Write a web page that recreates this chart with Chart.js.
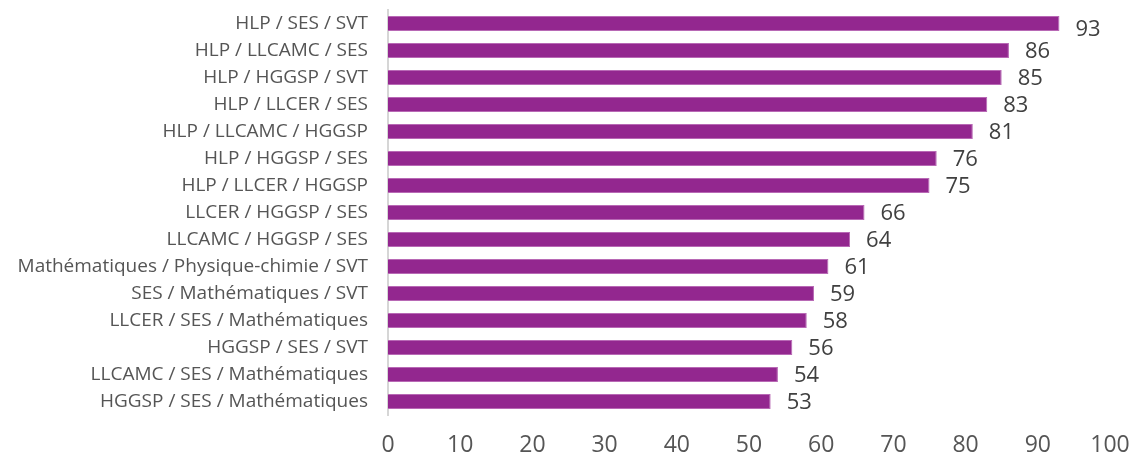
<!DOCTYPE html>
<html>
<head>
<meta charset="utf-8">
<script src="https://cdn.jsdelivr.net/npm/chart.js@4.4.1/dist/chart.umd.min.js"></script>
<style>
  html, body { margin: 0; padding: 0; background: #ffffff; }
  #wrap { width: 1134px; height: 455px; }
</style>
</head>
<body>
<div id="wrap"><canvas id="barChart"></canvas></div>
<script>
'use strict';

// ── DATA ──────────────────────────────────────────────────────
const categories = [
  'HLP / SES / SVT',
  'HLP / LLCAMC / SES',
  'HLP / HGGSP / SVT',
  'HLP / LLCER / SES',
  'HLP / LLCAMC / HGGSP',
  'HLP / HGGSP / SES',
  'HLP / LLCER / HGGSP',
  'LLCER / HGGSP / SES',
  'LLCAMC / HGGSP / SES',
  'Mathématiques / Physique-chimie / SVT',
  'SES / Mathématiques / SVT',
  'LLCER / SES / Mathématiques',
  'HGGSP / SES / SVT',
  'LLCAMC / SES / Mathématiques',
  'HGGSP / SES / Mathématiques',
];
const values = [93, 86, 85, 83, 81, 76, 75, 66, 64, 61, 59, 58, 56, 54, 53];

const xMin  = 0;
const xMax  = 100;
const xStep = 10;

const FONT = "'Open Sans', 'Noto Sans', sans-serif";

// ── VALUE LABELS (end of bar) ─────────────────────────────────
const valueLabels = {
  id: 'valueLabels',
  afterDatasetsDraw(chart) {
    const { ctx } = chart;
    const meta = chart.getDatasetMeta(0);
    ctx.save();
    ctx.font = `22px ${FONT}`;
    ctx.fillStyle = '#404040';
    ctx.textAlign = 'left';
    ctx.textBaseline = 'middle';
    meta.data.forEach((bar, i) => {
      const shift = i === 0 ? 6 : 1.5;
      ctx.fillText(String(values[i]), bar.x + 16, bar.y + shift);
    });
    ctx.restore();
  },
};

// ── CHART ─────────────────────────────────────────────────────
new Chart(document.getElementById('barChart'), {
  type: 'bar',
  data: {
    labels: categories,
    datasets: [{
      data: values,
      backgroundColor: '#93278f',
      borderColor: '#b869b5',
      borderWidth: 1,
      borderSkipped: 'start',
      categoryPercentage: 1,
      barPercentage: 0.55,
    }],
  },
  options: {
    indexAxis: 'y',
    responsive: true,
    maintainAspectRatio: false,
    animation: false,
    layout: { padding: { top: 10, right: 24, bottom: 0, left: 0 } },
    scales: {
      x: {
        min: xMin,
        max: xMax,
        grid: { display: false, drawTicks: false },
        border: { display: false },
        ticks: {
          stepSize: xStep,
          padding: 17,
          color: '#555555',
          font: { family: FONT, size: 23 },
        },
        afterFit: s => { s.height = 40; s.paddingLeft = 0; s.paddingRight = 0; },
      },
      y: {
        grid: { display: false, drawTicks: false },
        border: { display: true, color: '#d6d6d6', width: 2 },
        ticks: {
          padding: 20,
          color: '#555555',
          font: { family: FONT, size: 19 },
        },
        afterFit: s => { s.width = 388; s.paddingTop = 0; s.paddingBottom = 0; },
      },
    },
    plugins: {
      legend: { display: false },
      tooltip: { enabled: false },
    },
  },
  plugins: [valueLabels],
});
</script>
</body>
</html>
